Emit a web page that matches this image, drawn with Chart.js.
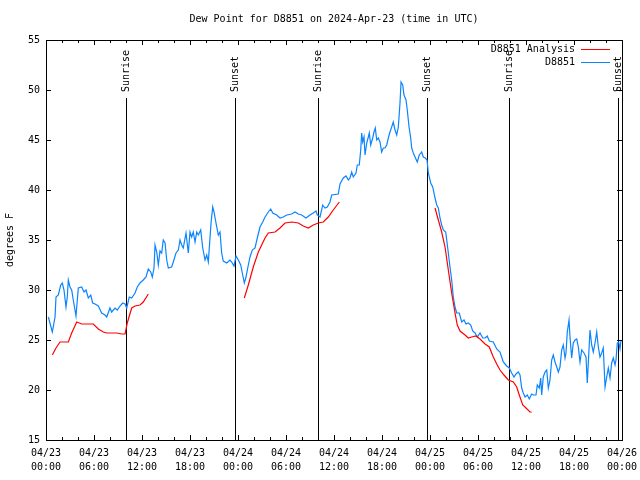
<!DOCTYPE html>
<html>
<head>
<meta charset="utf-8">
<script src="https://cdn.jsdelivr.net/npm/chart.js@4"></script>
<style>
  body { margin: 0; background: #fff; }
</style>
</head>
<body>
<canvas id="dewpoint-chart" width="640" height="480"></canvas>
<script>
// Hours since 04/23 00:00 UTC
let stationHours = [
    0.29, 0.79, 1.13, 1.25, 1.54, 1.84, 2.04, 2.25, 2.5, 2.66, 2.79, 3.0, 3.21, 3.41, 3.75, 4.04,
    4.46, 4.75, 5.0, 5.29, 5.59, 5.84, 6.13, 6.54, 6.96, 7.38, 7.59, 8.0, 8.21, 8.63, 8.91, 9.25,
    9.59, 9.88, 10.09, 10.41, 10.71, 11.13, 11.41, 11.75, 12.16, 12.5, 12.79, 13.09, 13.29, 13.5,
    13.63, 13.84, 14.04, 14.25, 14.46, 14.66, 14.88, 15.09, 15.29, 15.71, 15.91, 16.25, 16.54,
    16.75, 16.96, 17.16, 17.5, 17.79, 18.0, 18.21, 18.41, 18.63, 18.84, 19.04, 19.34, 19.59,
    19.88, 20.09, 20.29, 20.5, 20.63, 20.84, 21.0, 21.25, 21.54, 21.75, 21.96, 22.16, 22.59,
    23.0, 23.21, 23.5, 23.75, 24.04, 24.34, 24.59, 24.79, 25.0, 25.29, 25.5, 25.79, 26.13,
    26.41, 26.75, 27.09, 27.38, 27.79, 28.09, 28.34, 28.84, 29.25, 29.66, 30.09, 30.71, 31.13,
    31.54, 31.96, 32.5, 33.0, 33.41, 33.75, 33.91, 34.25, 34.59, 34.88, 35.16, 35.5, 35.71,
    36.54, 36.75, 37.16, 37.5, 37.79, 38.0, 38.21, 38.41, 38.75, 38.91, 39.16, 39.34, 39.46,
    39.59, 39.75, 39.88, 40.09, 40.29, 40.41, 40.59, 40.84, 41.0, 41.16, 41.34, 41.54, 41.75,
    41.96, 42.16, 42.38, 42.59, 42.79, 43.0, 43.21, 43.41, 43.63, 43.84, 44.04, 44.25, 44.38,
    44.59, 44.75, 45.0, 45.16, 45.38, 45.59, 45.71, 45.91, 46.13, 46.41, 46.66, 46.96, 47.16,
    47.41, 47.63, 47.79, 48.09, 48.34, 48.63, 48.84, 49.04, 49.25, 49.46, 49.66, 49.96, 50.09,
    50.29, 50.5, 50.71, 50.91, 51.13, 51.34, 51.66, 51.96, 52.25, 52.5, 52.79, 53.09, 53.34,
    53.63, 53.91, 54.25, 54.59, 54.88, 55.16, 55.41, 55.91, 56.34, 56.75, 57.16, 57.59, 57.91,
    58.21, 58.5, 58.75, 59.04, 59.25, 59.46, 59.66, 59.88, 60.16, 60.41, 60.71, 60.91, 61.25,
    61.41, 61.66, 61.84, 61.96, 62.16, 62.38, 62.59, 62.79, 63.0, 63.21, 63.41, 63.63, 63.84,
    64.04, 64.25, 64.46, 64.66, 64.88, 65.0, 65.16, 65.38, 65.5, 65.71, 65.91, 66.13, 66.34,
    66.54, 66.75, 66.96, 67.25, 67.5, 67.66, 67.84, 68.0, 68.21, 68.41, 68.63, 68.84, 69.04,
    69.25, 69.46, 69.66, 69.88, 70.09, 70.29, 70.5, 70.71, 70.91, 71.13, 71.25, 71.41, 71.59,
    71.75, 71.88
];

let stationDew = [
    27.3, 25.8, 27.3, 29.3, 29.5, 30.5, 30.7, 30.0, 28.3, 29.3, 31.0, 30.3, 30.0, 29.0, 27.4, 30.2,
    30.3, 29.8, 30.0, 29.2, 29.5, 28.7, 28.6, 28.4, 27.7, 27.5, 27.3, 28.2, 27.8, 28.2, 28.0, 28.4,
    28.7, 28.6, 28.2, 29.3, 29.2, 29.7, 30.3, 30.7, 31.0, 31.3, 32.1, 31.8, 31.3, 32.2,
    34.5, 33.8, 32.5, 33.9, 33.7, 35.0, 34.7, 33.0, 32.2, 32.3, 32.8, 33.7, 34.0,
    35.0, 34.5, 34.2, 35.7, 33.7, 35.8, 35.3, 35.8, 34.8, 35.8, 35.5, 36.0, 34.2,
    33.0, 33.5, 32.8, 35.2, 36.7, 38.3, 37.8, 36.7, 35.5, 35.8, 33.7, 32.9, 32.7,
    33.0, 32.8, 32.4, 33.4, 33.0, 32.5, 31.5, 30.7, 31.3, 32.5, 33.3, 34.0, 34.2,
    35.2, 36.3, 36.8, 37.3, 37.8, 38.1, 37.7, 37.5, 37.2, 37.3, 37.5, 37.6, 37.8,
    37.6, 37.5, 37.2, 37.5, 37.7, 37.9, 37.5, 37.3, 38.5, 38.2, 38.3, 38.8, 39.5,
    39.6, 40.6, 41.2, 41.4, 41.0, 41.2, 41.8, 41.3, 41.7, 42.5, 42.5, 44.0, 45.7,
    44.8, 45.3, 43.5, 44.7, 45.3, 45.7, 44.5, 45.2, 45.8, 46.2, 45.0, 45.2, 44.8,
    43.8, 44.2, 44.2, 44.5, 45.2, 45.8, 46.3, 46.8, 46.0, 45.5, 46.3, 48.7, 50.8,
    50.5, 49.5, 49.0, 48.0, 46.3, 45.2, 44.2, 43.7, 43.3, 42.8, 43.5, 43.8, 43.3,
    43.2, 43.0, 41.7, 40.7, 40.3, 39.2, 38.5, 38.2, 37.2, 36.5, 36.0, 35.8, 35.0,
    33.7, 32.3, 31.0, 29.3, 28.3, 27.7, 27.7, 26.8, 27.0, 26.6, 26.7, 26.5, 25.9,
    25.7, 25.3, 25.7, 25.2, 25.2, 25.4, 24.9, 24.8, 24.1, 23.8, 22.8, 22.4, 22.2,
    21.7, 21.3, 21.6, 21.8, 21.5, 20.2, 19.7, 19.3, 19.5, 19.1, 19.6, 19.5, 19.5,
    20.5, 20.2, 21.2, 19.5, 21.3, 21.8, 22.0, 20.2, 21.0, 23.0, 23.5, 22.8, 22.3,
    21.8, 22.3, 24.0, 24.5, 23.2, 23.7, 25.8, 27.0, 25.3, 23.2, 24.7, 25.0, 25.1,
    24.3, 22.8, 24.0, 23.7, 23.3, 20.7, 23.5, 26.0, 24.5, 23.8, 24.7, 25.8, 24.3,
    23.3, 23.7, 24.2, 20.3, 21.3, 22.2, 21.2, 22.7, 23.2, 22.5, 23.0, 24.7, 24.8,
    24.1, 25.0
];

// Analysis runs in three pieces; null values break the line
let analysisHours = [
    0.79, 1.25, 1.75, 2.79, 3.21, 3.84, 4.46, 5.91, 6.54, 7.16, 7.59, 8.21, 8.84, 9.46, 9.88,
    10.16, 10.71, 11.13, 11.75, 12.16, 12.79,
    18.0,
    24.79, 25.29, 25.91, 26.54, 26.96, 27.38, 27.79, 28.63, 29.25, 29.88, 30.71, 31.54, 32.16,
    32.79, 33.41, 34.04, 34.66, 35.29, 35.91, 36.66,
    42.0,
    48.63, 49.04, 49.46, 49.88, 50.29, 50.71, 51.13, 51.41, 51.75, 52.38, 52.79, 53.21, 53.75,
    54.25, 54.88, 55.41, 55.91, 56.34, 56.75, 57.25, 57.79, 58.41, 58.84, 59.16, 59.59, 60.0,
    60.5, 60.71
];

let analysisDew = [
    23.5, 24.2, 24.8, 24.8, 25.7, 26.8, 26.6, 26.6, 26.1, 25.8, 25.7, 25.7, 25.7, 25.6, 25.6,
    26.7, 28.2, 28.4, 28.5, 28.8, 29.6,
    null,
    29.2, 30.5, 32.3, 33.8, 34.5, 35.2, 35.7, 35.8, 36.2, 36.7, 36.8, 36.7, 36.4,
    36.2, 36.5, 36.7, 36.8, 37.3, 38.0, 38.8,
    null,
    38.2, 37.0, 35.8, 34.3, 32.0, 29.7, 27.7, 26.5, 25.9, 25.5, 25.2, 25.3, 25.4,
    25.1, 24.6, 24.3, 23.3, 22.6, 22.0, 21.5, 21.0, 20.8, 20.3, 19.5, 18.5, 18.2,
    17.8, 17.8
];

let sunriseHours = [10.0, 33.97, 57.92];
let sunsetHours = [23.6, 47.62, 71.56];

let seriesLabels = ['D8851 Analysis', 'D8851'];
let seriesColors = ['#ff0000', '#0a84ff'];

const monoFont = '10px "DejaVu Sans Mono", monospace';

// Title, border, inward ticks, sun lines and the legend, gnuplot style
const decor = {
    id: 'decor',
    beforeDatasetsDraw(chart) {
        const ctx = chart.ctx;
        const area = chart.chartArea;
        const x = chart.scales.x;
        ctx.save();
        ctx.strokeStyle = '#000';
        ctx.lineWidth = 1;
        ctx.fillStyle = '#000';
        ctx.font = monoFont;
        function sunLine(h, text) {
            const px = Math.round(x.getPixelForValue(h)) + 0.5;
            ctx.beginPath();
            ctx.moveTo(px, 98);
            ctx.lineTo(px, area.bottom);
            ctx.stroke();
            ctx.save();
            ctx.translate(px, 92);
            ctx.rotate(-Math.PI / 2);
            ctx.textAlign = 'left';
            ctx.textBaseline = 'middle';
            ctx.fillText(text, 0, 0);
            ctx.restore();
        }
        sunriseHours.forEach(h => sunLine(h, 'Sunrise'));
        sunsetHours.forEach(h => sunLine(h, 'Sunset'));
        ctx.restore();
    },
    afterDraw(chart) {
        const ctx = chart.ctx;
        const area = chart.chartArea;
        const x = chart.scales.x;
        const y = chart.scales.y;
        ctx.save();
        ctx.strokeStyle = '#000';
        ctx.lineWidth = 1;
        ctx.strokeRect(area.left + 0.5, area.top + 0.5, area.right - area.left, area.bottom - area.top);

        ctx.beginPath();
        for (let h = 0; h <= 72; h += 2) {
            const px = Math.round(x.getPixelForValue(h)) + 0.5;
            const len = h % 6 === 0 ? 5 : 3;
            ctx.moveTo(px, area.bottom);
            ctx.lineTo(px, area.bottom - len);
            ctx.moveTo(px, area.top);
            ctx.lineTo(px, area.top + len);
        }
        for (let v = 15; v <= 55; v += 5) {
            const py = Math.round(y.getPixelForValue(v)) + 0.5;
            ctx.moveTo(area.left, py);
            ctx.lineTo(area.left + 5, py);
            ctx.moveTo(area.right, py);
            ctx.lineTo(area.right - 5, py);
        }
        ctx.stroke();

        ctx.fillStyle = '#000';
        ctx.font = monoFont;
        ctx.textAlign = 'center';
        ctx.textBaseline = 'middle';
        ctx.fillText('Dew Point for D8851 on 2024-Apr-23 (time in UTC)', (area.left + area.right) / 2, 19);

        ctx.textAlign = 'right';
        seriesLabels.forEach((lab, i) => {
            const ly = 49 + i * 13;
            ctx.fillText(lab, 575, ly);
            ctx.strokeStyle = seriesColors[i];
            ctx.beginPath();
            ctx.moveTo(581, ly + 0.5);
            ctx.lineTo(610, ly + 0.5);
            ctx.stroke();
        });
        ctx.restore();
    }
};

const data = {
    datasets: [{
        label: seriesLabels[0],
        data: analysisHours.map((h, i) => ({ x: h, y: analysisDew[i] })),
        borderColor: seriesColors[0],
        borderWidth: 1.2,
        pointRadius: 0,
        spanGaps: false
    }, {
        label: seriesLabels[1],
        data: stationHours.map((h, i) => ({ x: h, y: stationDew[i] })),
        borderColor: seriesColors[1],
        borderWidth: 1.2,
        pointRadius: 0
    }]
};

var ctx = document.getElementById('dewpoint-chart').getContext('2d');
var dewChart = new Chart(ctx, {
    type: 'line',
    data,
    options: {
        responsive: false,
        animation: false,
        layout: { padding: { top: 40, right: 18, left: 0, bottom: 0 } },
        plugins: {
            legend: { display: false },
            tooltip: { enabled: false }
        },
        scales: {
            x: {
                type: 'linear',
                min: 0,
                max: 72,
                afterFit: s => {
                    s.height = 40;
                    s.paddingLeft = 0;
                    s.paddingRight = 0;
                },
                grid: { display: false, drawTicks: false },
                border: { display: false },
                ticks: {
                    stepSize: 6,
                    autoSkip: false,
                    maxRotation: 0,
                    minRotation: 0,
                    padding: 6,
                    color: '#000',
                    font: { family: '"DejaVu Sans Mono", monospace', size: 10, lineHeight: 1.4 },
                    callback: v => {
                        const day = 23 + Math.floor(v / 24);
                        const hr = v % 24;
                        return ['04/' + day, String(hr).padStart(2, '0') + ':00'];
                    }
                }
            },
            y: {
                min: 15,
                max: 55,
                afterFit: s => { s.width = 46; },
                grid: { display: false, drawTicks: false },
                border: { display: false },
                title: {
                    display: true,
                    text: 'degrees F',
                    color: '#000',
                    padding: { top: 4, bottom: 0 },
                    font: { family: '"DejaVu Sans Mono", monospace', size: 10 }
                },
                ticks: {
                    stepSize: 5,
                    padding: 6,
                    color: '#000',
                    font: { family: '"DejaVu Sans Mono", monospace', size: 10 }
                }
            }
        }
    },
    plugins: [decor]
});
</script>
</body>
</html>
